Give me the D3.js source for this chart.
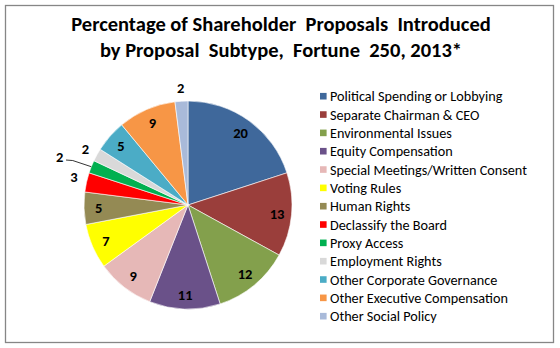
<!DOCTYPE html>
<html>
<head>
<meta charset="utf-8">
<script src="https://cdn.jsdelivr.net/npm/d3@7"></script>
<style>
  html, body { margin: 0; padding: 0; background: #fff; }
  svg { display: block; }
  text { font-family: Carlito, Calibri, Lato, "Open Sans", sans-serif; }
</style>
</head>
<body>
<svg id="chart" width="560" height="348"></svg>
<script>
const categories = [
  "Political Spending or Lobbying",
  "Separate Chairman & CEO",
  "Environmental Issues",
  "Equity Compensation",
  "Special Meetings/Written Consent",
  "Voting Rules",
  "Human Rights",
  "Declassify the Board",
  "Proxy Access",
  "Employment Rights",
  "Other Corporate Governance",
  "Other Executive Compensation",
  "Other Social Policy"
];
const values = [20, 13, 12, 11, 9, 7, 5, 3, 2, 2, 5, 9, 2];
const colors = [
  "#3f689b", "#9a3e3b", "#83a04c", "#6a5189", "#e6b8b7", "#ffff00",
  "#948a54", "#ff0000", "#00b050", "#d9d9d9", "#4bacc6", "#f79646", "#a9bad9"
];
const titleLines = [
  "Percentage of Shareholder\u00a0 Proposals\u00a0 Introduced",
  "by Proposal\u00a0 Subtype,\u00a0 Fortune\u00a0 250, 2013*"
];
// label layout tweaks (Excel moved these outside labels to avoid overlap)
const labelNudges = { "Declassify the Board": [0, -3], "Proxy Access": [-19.5, -5.4] };
const leaderFor = ["Proxy Access"];

const svg = d3.select("#chart");

// frame
svg.append("rect")
  .attr("x", 5.5).attr("y", 5.5).attr("width", 548).attr("height", 337)
  .attr("fill", "#fff").attr("stroke", "#868686").attr("stroke-width", 1.3);

// title
const title = svg.append("text")
  .attr("x", 281).attr("text-anchor", "middle")
  .attr("font-weight", "bold").attr("font-size", 20.5).attr("fill", "#000");
title.selectAll("tspan").data(titleLines).join("tspan")
  .attr("x", 281).attr("y", (d, i) => 31 + i * 25.5).text(d => d);

// pie
const cx = 188, cy = 205, R = 104;
const data = categories.map((c, i) => ({ cat: c, value: values[i], color: colors[i] }));
const pie = d3.pie().value(d => d.value).sort(null);
const arcs = pie(data);
const arc = d3.arc().innerRadius(0).outerRadius(R);
const g = svg.append("g").attr("transform", `translate(${cx},${cy})`);

g.selectAll("path.slice").data(arcs).join("path")
  .attr("class", "slice")
  .attr("d", arc)
  .attr("fill", d => d.data.color)
  .attr("stroke", "#ffffff").attr("stroke-width", 0.6);

const inR = R * 0.86, outR = R + 13;
function labelPos(d) {
  const a = (d.startAngle + d.endAngle) / 2;
  const r = d.data.value >= 5 ? inR : outR;
  let x = Math.sin(a) * r, y = -Math.cos(a) * r;
  const n = labelNudges[d.data.cat];
  if (n) { x += n[0]; y += n[1]; }
  return [x, y];
}

// leader lines
g.selectAll("path.leader").data(arcs.filter(d => leaderFor.includes(d.data.cat))).join("path")
  .attr("class", "leader")
  .attr("fill", "none").attr("stroke", "#000").attr("stroke-width", 0.8)
  .attr("d", d => {
    const [x, y] = labelPos(d);
    const a = (d.startAngle + d.endAngle) / 2;
    const ex = Math.sin(a) * R, ey = -Math.cos(a) * R;
    return `M${x + 6.3},${y + 3.5}L${x + 13},${y + 4}L${ex},${ey}`;
  });

g.selectAll("text.lbl").data(arcs).join("text")
  .attr("class", "lbl")
  .attr("transform", d => `translate(${labelPos(d)})`)
  .attr("text-anchor", "middle").attr("dy", "0.36em")
  .attr("font-weight", "bold").attr("font-size", 14.5).attr("fill", "#000")
  .text(d => d.data.value);

// legend
const legY = d3.scaleBand().domain(categories).range([87.05, 325.35]);
const leg = svg.append("g");
const items = leg.selectAll("g").data(data).join("g")
  .attr("transform", d => `translate(320,${legY(d.cat) + legY.bandwidth() / 2})`);
items.append("rect").attr("x", 0).attr("y", -3.3).attr("width", 6.6).attr("height", 6.6)
  .attr("fill", d => d.color);
items.append("text").attr("x", 10).attr("dy", "0.36em")
  .attr("font-size", 14.2).attr("fill", "#000")
  .text(d => d.cat);
</script>
</body>
</html>
